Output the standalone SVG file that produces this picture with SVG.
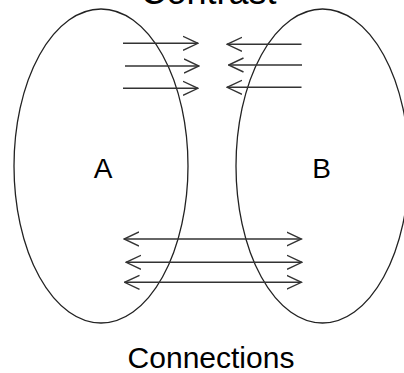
<svg xmlns="http://www.w3.org/2000/svg" width="404" height="373" viewBox="0 0 404 373">
  <style>
    .set { fill: none; stroke: #222; stroke-width: 1.3; }
    .arrow { fill: none; stroke: #333; stroke-width: 1.4; }
    .label { font-family: "Liberation Sans", Arial, sans-serif; fill: #000; text-anchor: middle; }
  </style>
  <defs>
    <marker id="v" viewBox="0 0 16 16" markerWidth="16" markerHeight="16" refX="15" refY="8" orient="auto-start-reverse" markerUnits="userSpaceOnUse">
      <path d="M0,1 L15,8 L0,15" fill="none" stroke="#333" stroke-width="1.4"/>
    </marker>
  </defs>
  <rect width="404" height="373" fill="#fff"/>

  <text class="label" x="208.5" y="3.5" font-size="36">Contrast</text>

  <g id="setA">
    <ellipse class="set" cx="101" cy="166" rx="87" ry="157"/>
    <text class="label" x="103" y="178" font-size="28">A</text>
  </g>
  <g id="setB">
    <ellipse class="set" cx="322.5" cy="166" rx="86.5" ry="157"/>
    <text class="label" x="321.5" y="178" font-size="28">B</text>
  </g>

  <g id="connectors">
    <!-- A pushing toward B -->
    <line class="arrow" x1="123" y1="43.3" x2="198" y2="43.3" marker-end="url(#v)"/>
    <line class="arrow" x1="125" y1="66" x2="199" y2="66" marker-end="url(#v)"/>
    <line class="arrow" x1="123" y1="88.3" x2="198" y2="88.3" marker-end="url(#v)"/>
    <!-- B pushing toward A -->
    <line class="arrow" x1="301.5" y1="44.3" x2="227" y2="44.3" marker-end="url(#v)"/>
    <line class="arrow" x1="302" y1="65" x2="228.5" y2="65" marker-end="url(#v)"/>
    <line class="arrow" x1="301.5" y1="87.3" x2="227" y2="87.3" marker-end="url(#v)"/>
    <!-- two-way links -->
    <line class="arrow" x1="124" y1="239" x2="301.5" y2="239" marker-start="url(#v)" marker-end="url(#v)"/>
    <line class="arrow" x1="126" y1="262.3" x2="302" y2="262.3" marker-start="url(#v)" marker-end="url(#v)"/>
    <line class="arrow" x1="124.5" y1="282.3" x2="301.5" y2="282.3" marker-start="url(#v)" marker-end="url(#v)"/>
  </g>

  <text class="label" x="211" y="368.3" font-size="30">Connections</text>
</svg>
